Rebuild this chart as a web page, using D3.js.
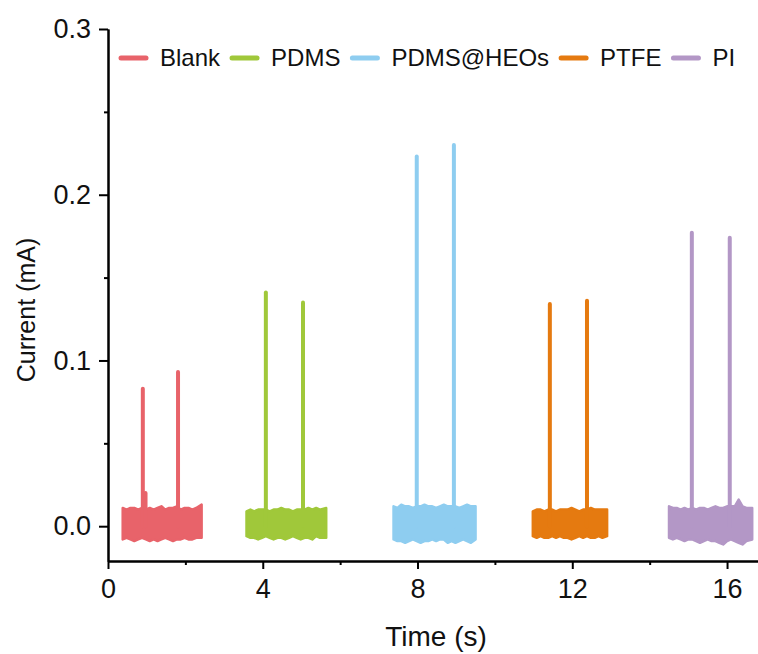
<!DOCTYPE html>
<html>
<head>
<meta charset="utf-8">
<script src="https://cdn.jsdelivr.net/npm/d3@7"></script>
<style>
  html, body { margin: 0; padding: 0; background: #fff; }
  svg { display: block; font-family: "Liberation Sans", Arial, sans-serif; }
</style>
</head>
<body>
<svg id="chart" width="758" height="654"></svg>
<script>
// ---------- data ----------
const seriesNames = ["Blank", "PDMS", "PDMS@HEOs", "PTFE", "PI"];
const seriesColors = ["#e8636a", "#a0c83a", "#8ecdf0", "#e57a10", "#b397c6"];

// noise band envelopes (time in s, current in mA)
const blankT  = [0.38, 0.48, 0.58, 0.68, 0.78, 0.88, 0.98, 1.08, 1.18, 1.28, 1.38, 1.48, 1.58, 1.68, 1.78, 1.88, 1.98, 2.08, 2.18, 2.28, 2.42];
const blankHi = [0.011, 0.010, 0.011, 0.011, 0.010, 0.011, 0.010, 0.011, 0.010, 0.011, 0.012, 0.010, 0.011, 0.011, 0.012, 0.010, 0.011, 0.011, 0.010, 0.011, 0.013];
const blankLo = [-0.008, -0.007, -0.008, -0.009, -0.008, -0.007, -0.008, -0.009, -0.008, -0.009, -0.008, -0.007, -0.008, -0.009, -0.008, -0.008, -0.007, -0.008, -0.008, -0.007, -0.007];

const pdmsT  = [3.58, 3.68, 3.78, 3.88, 3.98, 4.08, 4.18, 4.28, 4.38, 4.48, 4.58, 4.68, 4.78, 4.88, 4.98, 5.08, 5.18, 5.28, 5.38, 5.48, 5.64];
const pdmsHi = [0.009, 0.010, 0.009, 0.010, 0.010, 0.010, 0.009, 0.010, 0.010, 0.011, 0.010, 0.010, 0.009, 0.010, 0.010, 0.010, 0.011, 0.010, 0.011, 0.010, 0.011];
const pdmsLo = [-0.006, -0.007, -0.007, -0.008, -0.007, -0.006, -0.007, -0.008, -0.007, -0.007, -0.008, -0.007, -0.006, -0.007, -0.008, -0.007, -0.007, -0.008, -0.006, -0.007, -0.007];

const heosT  = [7.38, 7.48, 7.58, 7.68, 7.78, 7.88, 7.98, 8.08, 8.18, 8.28, 8.38, 8.48, 8.58, 8.68, 8.78, 8.88, 8.98, 9.08, 9.18, 9.28, 9.38, 9.50];
const heosHi = [0.012, 0.011, 0.013, 0.012, 0.012, 0.011, 0.012, 0.012, 0.013, 0.012, 0.012, 0.011, 0.012, 0.013, 0.012, 0.012, 0.012, 0.011, 0.012, 0.013, 0.012, 0.012];
const heosLo = [-0.008, -0.009, -0.009, -0.010, -0.009, -0.008, -0.009, -0.010, -0.009, -0.009, -0.008, -0.009, -0.008, -0.008, -0.010, -0.009, -0.010, -0.009, -0.008, -0.009, -0.010, -0.008];

const ptfeT  = [10.98, 11.08, 11.18, 11.28, 11.38, 11.48, 11.58, 11.68, 11.78, 11.88, 11.98, 12.08, 12.18, 12.28, 12.38, 12.48, 12.58, 12.68, 12.78, 12.90];
const ptfeHi = [0.009, 0.010, 0.010, 0.009, 0.010, 0.010, 0.009, 0.010, 0.010, 0.010, 0.011, 0.010, 0.009, 0.010, 0.010, 0.011, 0.010, 0.010, 0.010, 0.010];
const ptfeLo = [-0.006, -0.007, -0.006, -0.007, -0.007, -0.006, -0.007, -0.006, -0.007, -0.007, -0.008, -0.007, -0.006, -0.007, -0.006, -0.007, -0.007, -0.006, -0.007, -0.006];

const piT  = [14.50, 14.60, 14.70, 14.80, 14.90, 15.00, 15.10, 15.20, 15.30, 15.40, 15.50, 15.60, 15.70, 15.80, 15.90, 16.00, 16.10, 16.20, 16.30, 16.40, 16.50, 16.65];
const piHi = [0.012, 0.011, 0.011, 0.010, 0.011, 0.010, 0.011, 0.010, 0.011, 0.011, 0.010, 0.011, 0.012, 0.011, 0.011, 0.012, 0.012, 0.012, 0.016, 0.012, 0.011, 0.011];
const piLo = [-0.007, -0.008, -0.007, -0.008, -0.009, -0.008, -0.008, -0.009, -0.010, -0.009, -0.008, -0.009, -0.009, -0.010, -0.011, -0.009, -0.008, -0.009, -0.010, -0.011, -0.009, -0.008];

// spikes: times and peak currents
const blankSpikeT = [0.90, 0.97, 1.81];
const blankSpikeV = [0.083, 0.020, 0.093];
const pdmsSpikeT  = [4.08, 5.04];
const pdmsSpikeV  = [0.141, 0.135];
const heosSpikeT  = [7.98, 8.94];
const heosSpikeV  = [0.223, 0.230];
const ptfeSpikeT  = [11.42, 12.38];
const ptfeSpikeV  = [0.134, 0.136];
const piSpikeT    = [15.09, 16.07];
const piSpikeV    = [0.177, 0.174];

const xMajorTicks = [0, 4, 8, 12, 16];
const xMinorTicks = [2, 6, 10, 14];
const yMajorTicks = [0.0, 0.1, 0.2, 0.3];
const yMinorTicks = [0.05, 0.15, 0.25];

const bands = [
  {t: blankT, hi: blankHi, lo: blankLo, st: blankSpikeT, sv: blankSpikeV},
  {t: pdmsT,  hi: pdmsHi,  lo: pdmsLo,  st: pdmsSpikeT,  sv: pdmsSpikeV},
  {t: heosT,  hi: heosHi,  lo: heosLo,  st: heosSpikeT,  sv: heosSpikeV},
  {t: ptfeT,  hi: ptfeHi,  lo: ptfeLo,  st: ptfeSpikeT,  sv: ptfeSpikeV},
  {t: piT,    hi: piHi,    lo: piLo,    st: piSpikeT,    sv: piSpikeV}
];

// ---------- layout ----------
const svg = d3.select("#chart");
const x = d3.scaleLinear().domain([0, 16.8]).range([108, 758]);
const y = d3.scaleLinear().domain([-0.021, 0.3]).range([561, 29]);

// ---------- marks ----------
const area = d3.area().x(d => x(d.t)).y0(d => y(d.lo)).y1(d => y(d.hi)).curve(d3.curveLinear);
const line = d3.line().x(d => x(d[0])).y(d => y(d[1]));

bands.forEach((b, i) => {
  const pts = b.t.map((t, j) => ({t, hi: b.hi[j], lo: b.lo[j]}));
  const g = svg.append("g");
  g.append("path")
    .attr("d", area(pts))
    .attr("fill", seriesColors[i])
    .attr("stroke", seriesColors[i])
    .attr("stroke-width", 2.5)
    .attr("stroke-linejoin", "round");
  b.st.forEach((t, j) => {
    g.append("path")
      .attr("d", line([[t, 0], [t, b.sv[j]]]))
      .attr("stroke", seriesColors[i])
      .attr("stroke-width", 4)
      .attr("stroke-linecap", "round")
      .attr("fill", "none");
  });
});

// ---------- axes ----------
const tickFont = 27;
svg.append("g").attr("transform", `translate(0,${y.range()[0]})`)
  .call(d3.axisBottom(x).tickValues(xMajorTicks).tickFormat(d3.format("d")).tickSize(8).tickSizeOuter(0).tickPadding(10));
svg.append("g").attr("transform", `translate(0,${y.range()[0]})`)
  .call(d3.axisBottom(x).tickValues(xMinorTicks).tickFormat("").tickSize(4).tickSizeOuter(0));

svg.append("g").attr("transform", `translate(${x.range()[0]},0)`)
  .call(d3.axisLeft(y).tickValues(yMajorTicks).tickFormat(d3.format(".1f")).tickSize(9).tickSizeOuter(0).tickPadding(8));
svg.append("g").attr("transform", `translate(${x.range()[0]},0)`)
  .call(d3.axisLeft(y).tickValues(yMinorTicks).tickFormat("").tickSize(4).tickSizeOuter(0));

svg.selectAll(".domain").attr("stroke", "#000").attr("stroke-width", 2);
svg.selectAll(".tick line").attr("stroke", "#000").attr("stroke-width", 2);
svg.selectAll(".tick text").attr("font-size", tickFont).attr("fill", "#111")
  .attr("font-family", "'Liberation Sans', Arial, sans-serif");

svg.append("text")
  .attr("x", 436).attr("y", 646)
  .attr("text-anchor", "middle")
  .attr("font-size", 28).attr("fill", "#111")
  .text("Time (s)");

svg.append("text")
  .attr("transform", `translate(35,310) rotate(-90)`)
  .attr("text-anchor", "middle")
  .attr("font-size", 25).attr("fill", "#111")
  .text("Current (mA)");

// ---------- legend ----------
const legend = svg.append("g").attr("transform", "translate(121,58)");
let lx = 0;
seriesNames.forEach((name, i) => {
  legend.append("line")
    .attr("x1", lx).attr("x2", lx + 25).attr("y1", 0).attr("y2", 0)
    .attr("stroke", seriesColors[i]).attr("stroke-width", 5).attr("stroke-linecap", "round");
  const t = legend.append("text")
    .attr("x", lx + 39).attr("y", 0).attr("dy", "0.35em")
    .attr("font-size", 24).attr("fill", "#111")
    .text(name);
  lx += 39 + t.node().getComputedTextLength() + 12;
});
</script>
</body>
</html>
